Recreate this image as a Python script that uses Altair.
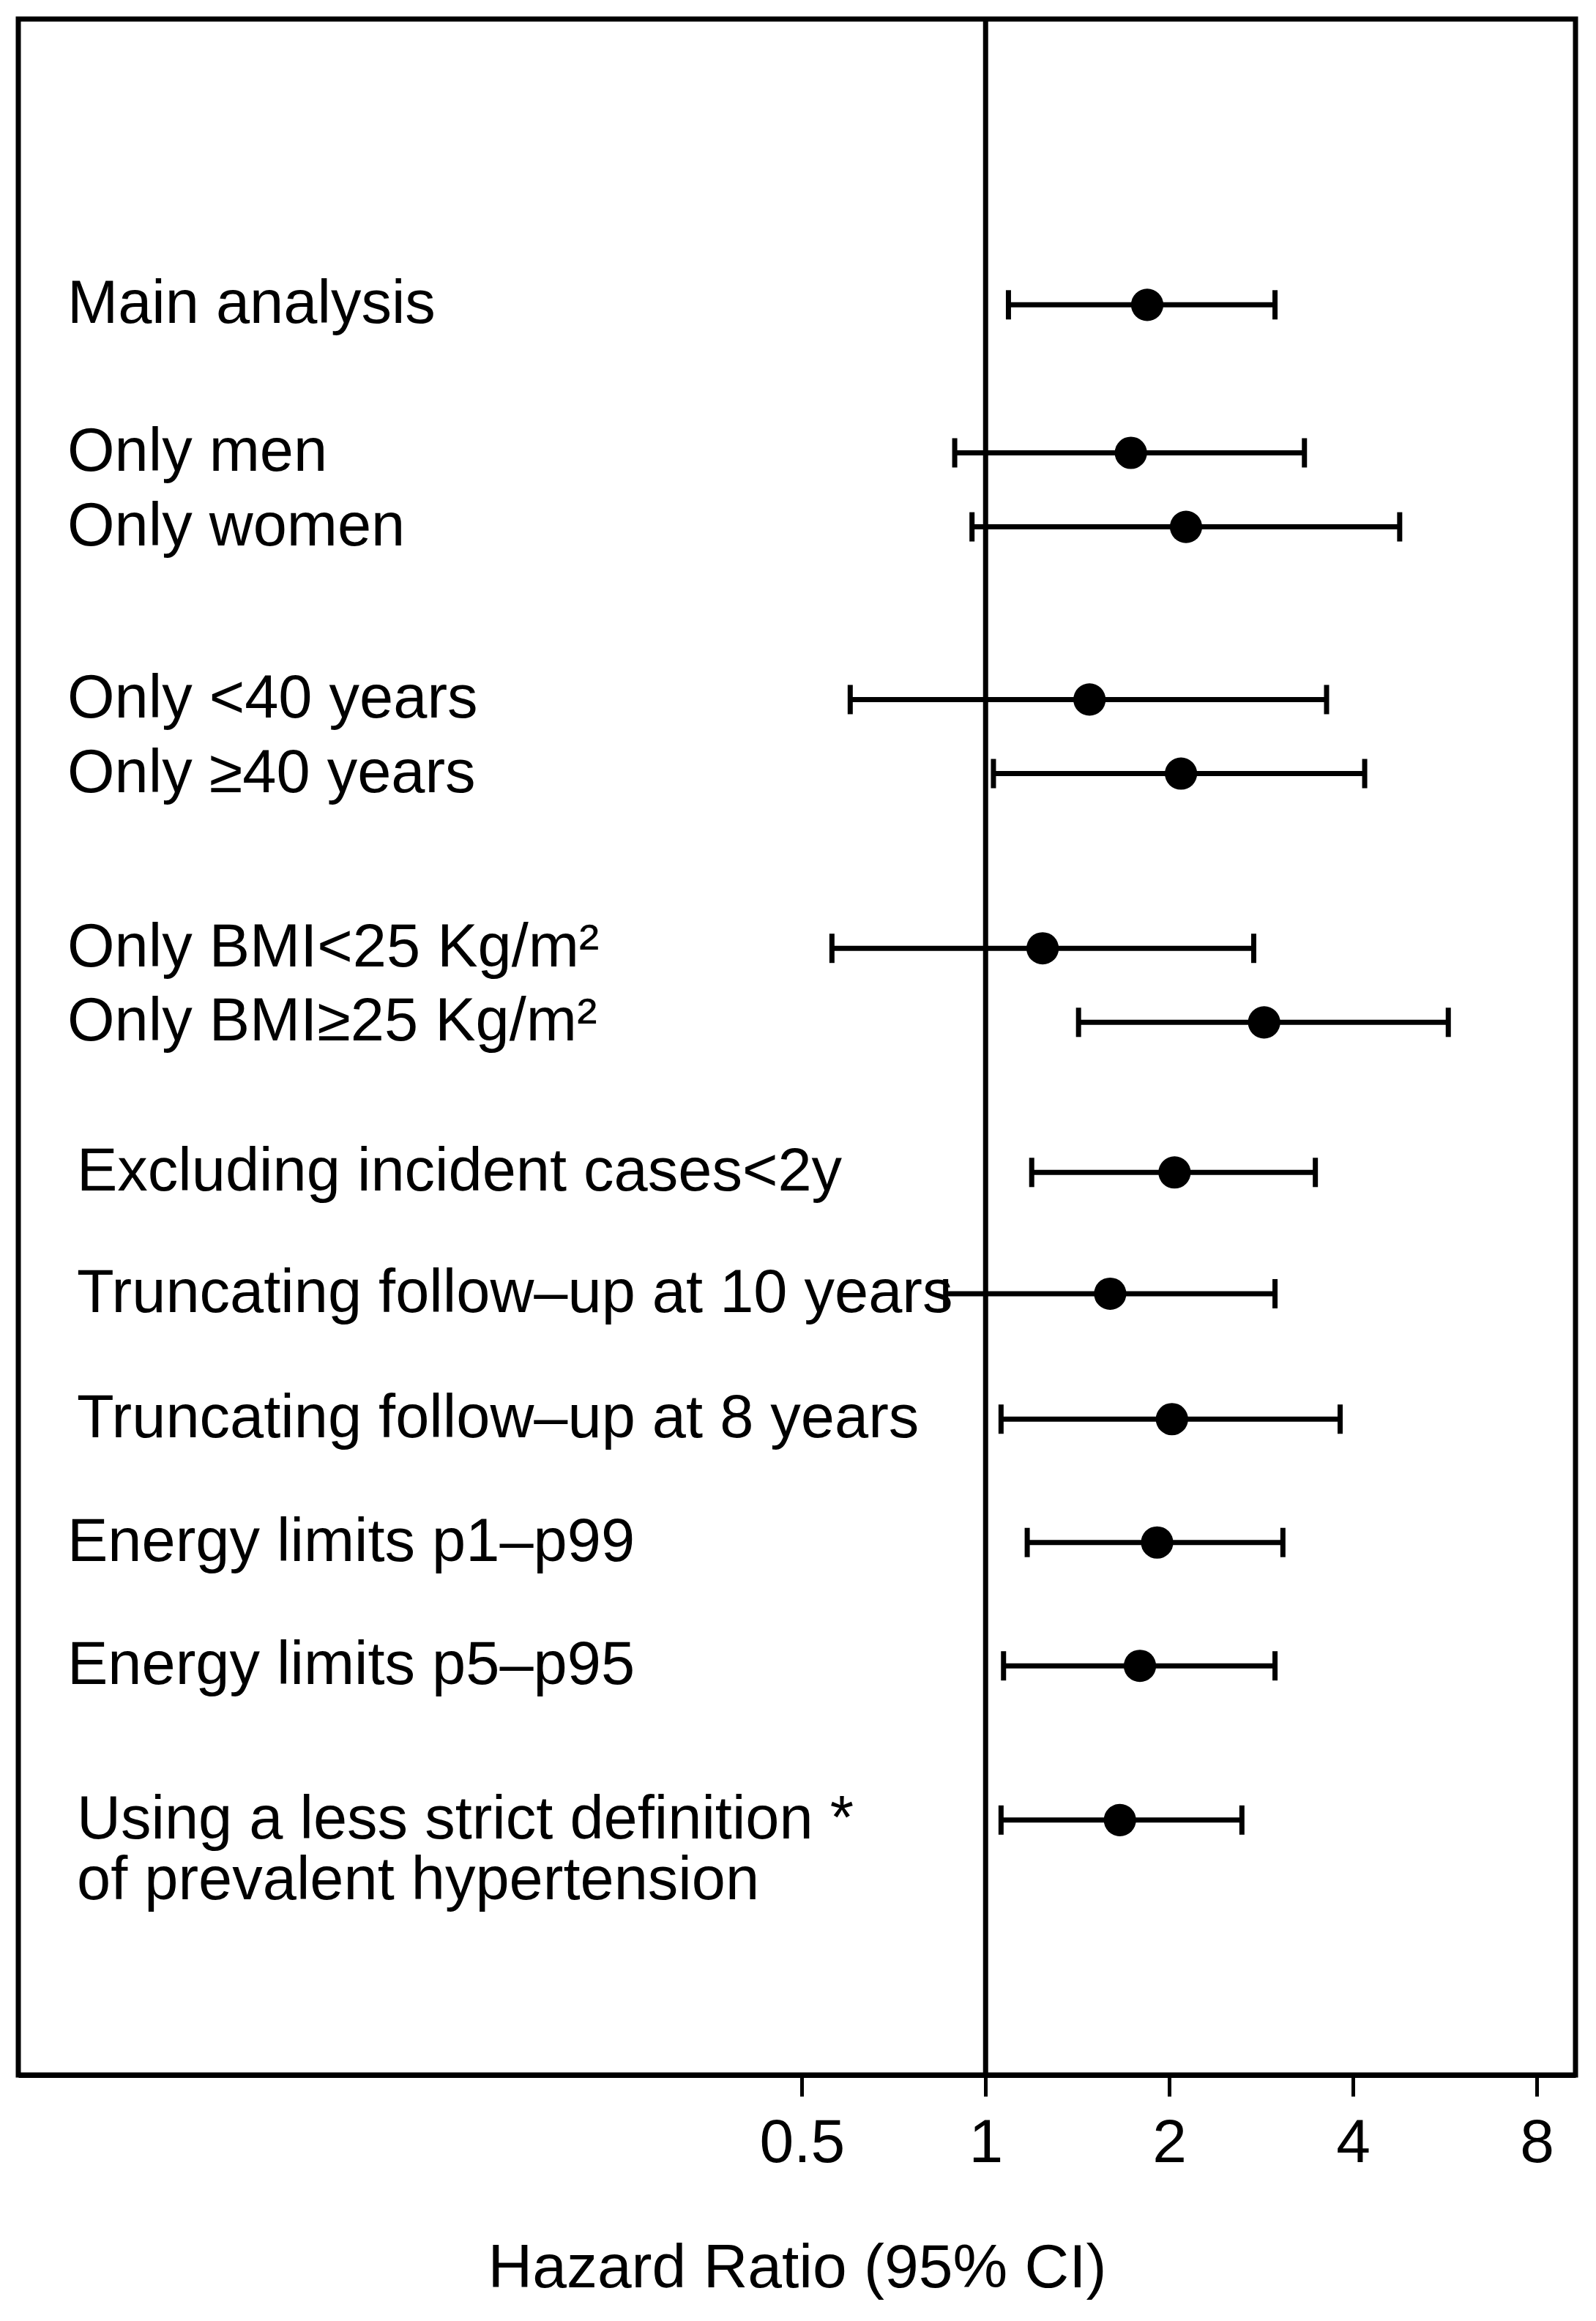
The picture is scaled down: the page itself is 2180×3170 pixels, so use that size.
import altair as alt
import pandas as pd

labels = [
    "Main analysis",
    "Only men",
    "Only women",
    "Only <40 years",
    "Only \u226540 years",
    "Only BMI<25 Kg/m\u00b2",
    "Only BMI\u226525 Kg/m\u00b2",
    "Excluding incident cases<2y",
    "Truncating follow\u2013up at 10 years",
    "Truncating follow\u2013up at 8 years",
    "Energy limits p1\u2013p99",
    "Energy limits p5\u2013p95",
    "Using a less strict definition *\nof prevalent hypertension",
]
hr = [1.84, 1.73, 2.13, 1.48, 2.09, 1.24, 2.86, 2.04, 1.60, 2.02, 1.91, 1.79, 1.66]
lower = [1.09, 0.89, 0.95, 0.60, 1.03, 0.56, 1.42, 1.19, 0.86, 1.06, 1.17, 1.07, 1.06]
upper = [2.98, 3.33, 4.77, 3.62, 4.18, 2.75, 5.73, 3.47, 2.98, 3.81, 3.07, 2.98, 2.63]
row = [13.9, 21.1, 24.7, 33.1, 36.7, 45.2, 48.8, 56.1, 62.0, 68.1, 74.1, 80.1, 87.6]
tick_values = [0.5, 1, 2, 4, 8]
reference = [1]

# labels that sit slightly more to the right in the original figure
indented = [labels[7], labels[8], labels[9], labels[12]]

df = pd.DataFrame({"label": labels, "hr": hr, "lower": lower, "upper": upper, "row": row})
ref_df = pd.DataFrame({"ref": reference})

FONT = "Liberation Sans"
LW = 7
X_TITLE = "Hazard Ratio (95% CI)"
xs = alt.Scale(type="log", base=2, domain=[0.026, 9.26], nice=False)
ys = alt.Scale(domain=[0, 100], reverse=True, nice=False, zero=False)

x_axis = alt.Axis(
    values=tick_values,
    format="~g",
    title=X_TITLE,
    labelFont=FONT,
    titleFont=FONT,
    labelFontSize=84,
    titleFontSize=84,
    titleFontWeight="normal",
    labelColor="black",
    titleColor="black",
    tickColor="black",
    tickSize=29,
    tickWidth=5,
    domainColor="black",
    domainWidth=LW,
    labelPadding=23,
    titlePadding=88,
    grid=False,
    labelFlush=False,
    labelOverlap=False,
)

base = alt.Chart(df)

ref = alt.Chart(ref_df).mark_rule(color="black", strokeWidth=LW).encode(
    x=alt.X("ref:Q", scale=xs, axis=x_axis, title=X_TITLE),
)

ci = base.mark_rule(color="black", strokeWidth=LW).encode(
    x=alt.X("lower:Q", scale=xs, axis=x_axis, title=X_TITLE),
    x2="upper:Q",
    y=alt.Y("row:Q", scale=ys, axis=None),
)

cap_lo = base.mark_tick(color="black", orient="vertical", size=40, thickness=LW, opacity=1).encode(
    x=alt.X("lower:Q", scale=xs, axis=x_axis, title=X_TITLE),
    y=alt.Y("row:Q", scale=ys, axis=None),
)
cap_hi = base.mark_tick(color="black", orient="vertical", size=40, thickness=LW, opacity=1).encode(
    x=alt.X("upper:Q", scale=xs, axis=x_axis, title=X_TITLE),
    y=alt.Y("row:Q", scale=ys, axis=None),
)

pts = base.mark_circle(color="black", size=1950, opacity=1).encode(
    x=alt.X("hr:Q", scale=xs, axis=x_axis, title=X_TITLE),
    y=alt.Y("row:Q", scale=ys, axis=None),
)

text_props = dict(
    align="left",
    baseline="middle",
    fontSize=83,
    font=FONT,
    color="black",
    lineBreak="\n",
    lineHeight=83,
)

txt_a = base.transform_filter(
    ~alt.FieldOneOfPredicate(field="label", oneOf=indented)
).mark_text(**text_props).encode(
    x=alt.value(67),
    y=alt.Y("row:Q", scale=ys, axis=None),
    text="label:N",
)

txt_b = base.transform_filter(
    alt.FieldOneOfPredicate(field="label", oneOf=indented)
).mark_text(**text_props).encode(
    x=alt.value(80),
    y=alt.Y("row:Q", scale=ys, axis=None),
    text="label:N",
)

chart = (
    alt.layer(ref, ci, cap_lo, cap_hi, pts, txt_a, txt_b)
    .properties(
        width=2127,
        height=2808,
        padding={"left": 17, "top": 14, "right": 10, "bottom": 10},
        background="white",
    )
    .configure_view(stroke="black", strokeWidth=LW)
)

chart.save("out.html", embed_options={"renderer": "svg", "actions": False})
